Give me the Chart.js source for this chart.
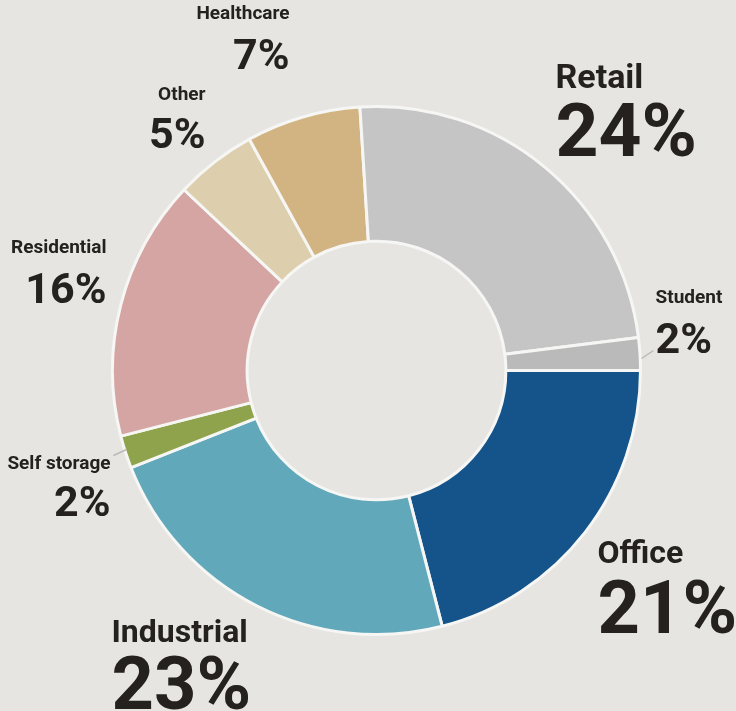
<!DOCTYPE html>
<html>
<head>
<meta charset="utf-8">
<script src="https://cdn.jsdelivr.net/npm/chart.js@4/dist/chart.umd.min.js"></script>
<style>
  html, body { margin: 0; padding: 0; background: #e6e5e1; }
  #wrap { width: 736px; height: 711px; position: relative; }
</style>
</head>
<body>
<div id="wrap"><canvas id="c" width="736" height="711"></canvas></div>
<script>
// ---- data ----
const categories = ["Office", "Industrial", "Self storage", "Residential", "Other", "Healthcare", "Retail", "Student"];
const shares = [21, 23, 2, 16, 5, 7, 24, 2];
const sliceColors = ["#14548a", "#62a8bb", "#8fa34c", "#d5a5a4", "#ddcfad", "#d2b483", "#c5c5c5", "#bababa"];

// ---- label layout (offsets from doughnut centre, pixels) ----
const labelLayout = {
  "Office":       { dx: 221, dy: 192, align: "left",  nameSize: 32, pctSize: 74, nameBase: 0,  pctBase: 70 },
  "Industrial":   { dx: -265, dy: 271, align: "left", nameSize: 32, pctSize: 74, nameBase: 0,  pctBase: 67 },
  "Self storage": { dx: -266, dy: 98, align: "right", nameSize: 19, pctSize: 43, nameBase: 0,  pctBase: 47 },
  "Residential":  { dx: -270, dy: -118, align: "right", nameSize: 19, pctSize: 43, nameBase: 0, pctBase: 50 },
  "Other":        { dx: -171, dy: -271, align: "right", nameSize: 19, pctSize: 43, nameBase: 0, pctBase: 48 },
  "Healthcare":   { dx: -87, dy: -352, align: "right", nameSize: 19, pctSize: 43, nameBase: 0,  pctBase: 50 },
  "Retail":       { dx: 179, dy: -283, align: "left", nameSize: 34, pctSize: 75, nameBase: 0,  pctBase: 68 },
  "Student":      { dx: 279, dy: -68, align: "left",  nameSize: 19, pctSize: 43, nameBase: 0,  pctBase: 50 }
};
const leaderLines = {
  "Student":      [265, -12, 277, -20],
  "Self storage": [-263, 85, -250, 79]
};

const labelPlugin = {
  id: "sliceLabels",
  afterDatasetsDraw(chart) {
    const ctx = chart.ctx;
    const meta = chart.getDatasetMeta(0);
    const cx = meta.data[0].x, cy = meta.data[0].y;
    ctx.save();
    ctx.strokeStyle = "#b9b9b6";
    ctx.lineWidth = 1.5;
    Object.keys(leaderLines).forEach(k => {
      const l = leaderLines[k];
      ctx.beginPath();
      ctx.moveTo(cx + l[0], cy + l[1]);
      ctx.lineTo(cx + l[2], cy + l[3]);
      ctx.stroke();
    });
    ctx.fillStyle = "#24211e";
    ctx.textBaseline = "alphabetic";
    categories.forEach((cat, i) => {
      const L = labelLayout[cat];
      const x = cx + L.dx, y = cy + L.dy;
      ctx.textAlign = L.align;
      ctx.font = "bold " + L.nameSize + "px Roboto";
      ctx.fillText(cat, x, y + L.nameBase);
      ctx.font = "bold " + L.pctSize + "px Roboto";
      ctx.fillText(shares[i] + "%", x, y + L.pctBase);
    });
    ctx.restore();
  }
};

new Chart(document.getElementById("c"), {
  type: "doughnut",
  data: {
    labels: categories,
    datasets: [{
      data: shares,
      backgroundColor: sliceColors,
      borderColor: "#f6f6f4",
      borderWidth: 3
    }]
  },
  options: {
    responsive: false,
    animation: false,
    rotation: 90,
    cutout: "49%",
    layout: { padding: { left: 111, right: 94, top: 105, bottom: 75 } },
    plugins: { legend: { display: false }, tooltip: { enabled: false } }
  },
  plugins: [labelPlugin]
});
</script>
</body>
</html>
